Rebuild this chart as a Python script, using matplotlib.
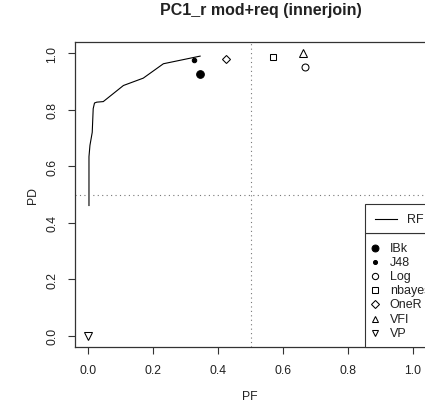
import matplotlib.pyplot as plt
from matplotlib.patches import Rectangle

plt.rcParams["font.family"] = ["Liberation Sans", "DejaVu Sans"]

# RF curve (PF, PD)
rf_pf = [0.003, 0.003, 0.006, 0.013, 0.016, 0.020, 0.027, 0.047, 0.109, 0.170, 0.232, 0.345]
rf_pd = [0.461, 0.634, 0.674, 0.720, 0.804, 0.824, 0.827, 0.829, 0.886, 0.912, 0.963, 0.990]

# single learners
learners = ["IBk", "J48", "Log", "nbayes", "OneR", "VFI", "VP"]
pf_vals = [0.345, 0.326, 0.668, 0.570, 0.424, 0.660, 0.000]
pd_vals = [0.927, 0.975, 0.951, 0.986, 0.980, 1.000, 0.000]
markers = ["o", "o", "o", "s", "D", "^", "v"]
sizes = [5.5, 3.2, 5, 4.3, 4, 5.5, 5.5]
filled = [True, True, False, False, False, False, False]


def mstyle(m, s, f):
    return dict(linestyle="none", marker=m, markersize=s,
                markerfacecolor="black" if f else "none",
                markeredgecolor="black", markeredgewidth=0.75)


fig = plt.figure(figsize=(4.25, 4.1), dpi=100)
ax = fig.add_axes([75 / 425, 62 / 410, 351 / 425, 305 / 410])

ax.plot(rf_pf, rf_pd, color="black", linewidth=0.8)
for x, y, m, s, f in zip(pf_vals, pd_vals, markers, sizes, filled):
    ax.plot(x, y, **mstyle(m, s, f))

ax.axvline(0.5, color="#777777", linestyle=(0, (1, 3)), linewidth=0.8)
ax.axhline(0.5, color="#777777", linestyle=(0, (1, 3)), linewidth=0.8)

ax.set_xlim(-0.04, 1.04)
ax.set_ylim(-0.04, 1.04)
ticks = [0.0, 0.2, 0.4, 0.6, 0.8, 1.0]
ax.set_xticks(ticks)
ax.set_yticks(ticks)
ax.set_xticklabels([f"{t:.1f}" for t in ticks])
ax.set_yticklabels([f"{t:.1f}" for t in ticks], rotation=90, va="center")
ax.tick_params(length=5, width=0.8, color="#333333", labelsize=8.8, pad=7,
               labelcolor="#222222")
for sp in ax.spines.values():
    sp.set_linewidth(0.9)
    sp.set_color("#333333")

fig.text(250 / 425, 1 - 397 / 410, "PF", fontsize=8.8, ha="center", va="center",
         color="#222222")
fig.text(33 / 425, 1 - 196 / 410, "PD", fontsize=8.8, ha="center", va="center",
         rotation=90, color="#222222")
fig.text(261 / 425, 1 - 11 / 410, "PC1_r mod+req (innerjoin)", fontsize=11.5,
         fontweight="bold", ha="center", va="center", color="#222222")

# legends drawn as two stacked boxes at the bottom right
tr = ax.transAxes
lx = (365 - 75) / 351
for y0, h in [(0.0, 0.374), (0.374, 0.095)]:
    ax.add_patch(Rectangle((lx, y0), 0.3, h, transform=tr, fill=True,
                           facecolor="white", edgecolor="#333333", linewidth=0.8,
                           clip_on=False, zorder=5))

ax.plot([0.855, 0.917], [0.421, 0.421], transform=tr, color="black",
        linewidth=0.8, clip_on=False, zorder=6)
ax.text(0.946, 0.421, "RF", transform=tr, fontsize=9, va="center",
        color="#222222", clip_on=False, zorder=6)

row_top, row_step = 0.326, 0.0466
for i, (name, m, s, f) in enumerate(zip(learners, markers, sizes, filled)):
    yy = row_top - i * row_step
    st = mstyle(m, s * 0.9, f)
    ax.plot([0.855], [yy], transform=tr, clip_on=False, zorder=6, **st)
    ax.text(0.897, yy, name, transform=tr, fontsize=9, va="center",
            color="#222222", clip_on=False, zorder=6)

fig.savefig("out.png", dpi=100)
